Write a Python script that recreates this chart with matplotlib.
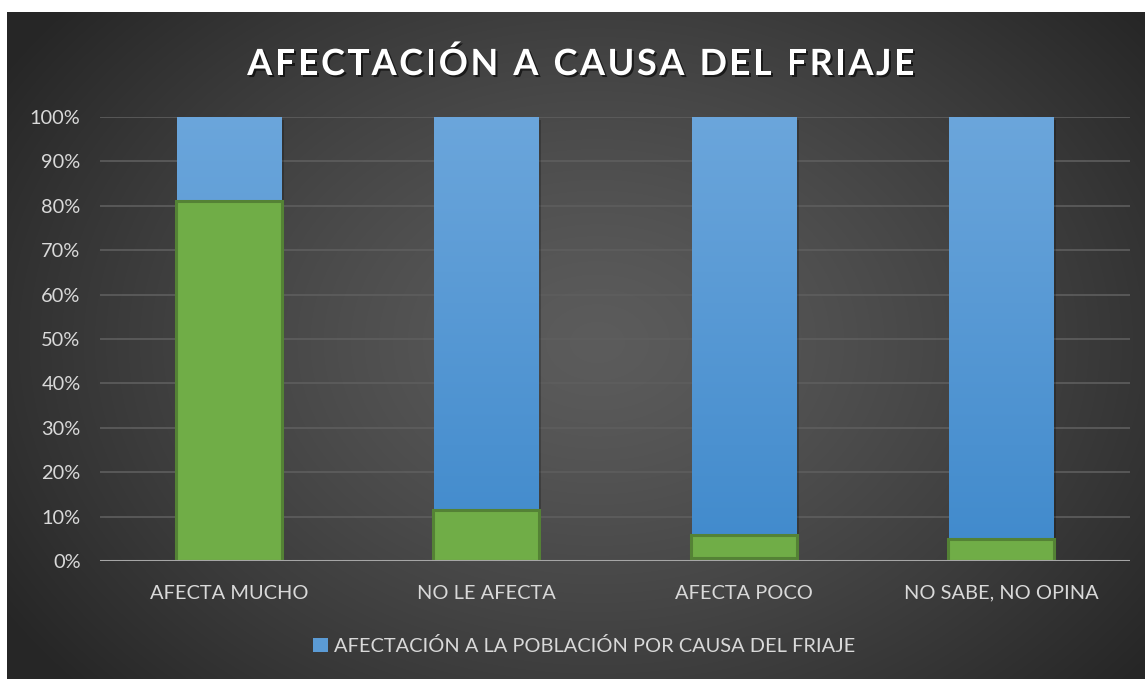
import numpy as np
import matplotlib
matplotlib.use("Agg")
import matplotlib.pyplot as plt
import matplotlib.patheffects as pe
from matplotlib.patches import Patch

# datos
categorias = ["AFECTA MUCHO", "NO LE AFECTA", "AFECTA POCO", "NO SABE, NO OPINA"]
poblacion = [1.0, 1.0, 1.0, 1.0]          # serie azul (100%)
verde_base = [0.0, 0.0, 0.006, 0.0]
verde_altura = [0.81, 0.115, 0.053, 0.05]
titulo = "AFECTACIÓN A CAUSA DEL FRIAJE"
leyenda = "AFECTACIÓN A LA POBLACIÓN POR CAUSA DEL FRIAJE"

W, H = 1145, 679
fig = plt.figure(figsize=(W / 100, H / 100), dpi=100)
fig.patch.set_facecolor("white")

# fondo con degradado radial
bg = fig.add_axes([7 / W, 0, 1 - 7 / W, 1 - 12 / H])
bg.set_axis_off()
yy, xx = np.mgrid[0:667, 0:1138]
r = np.sqrt(((xx - 590) / 700.0) ** 2 + ((yy - 330) / 520.0) ** 2)
r = np.clip(r, 0, 1)
g = 0.36 - 0.21 * r ** 1.3
bg.imshow(np.dstack([g, g, g]), aspect="auto", extent=[0, 1, 0, 1])
bg.set_xlim(0, 1)
bg.set_ylim(0, 1)

ax = fig.add_axes([100 / W, 1 - 561 / H, 1030 / W, (561 - 117) / H])
ax.patch.set_alpha(0)
x = np.arange(len(categorias))
ax.set_xlim(-0.5, len(categorias) - 0.5)
ax.set_ylim(0, 1)

ax.set_yticks(np.arange(0, 1.01, 0.1))
ax.set_yticklabels([f"{int(round(v * 100))}%" for v in np.arange(0, 1.01, 0.1)])
ax.yaxis.grid(True, color="#5e5e5e", lw=1.2)
ax.set_axisbelow(True)
for s in ax.spines.values():
    s.set_visible(False)
ax.axhline(0, color="#a6a6a6", lw=2.2, zorder=4)
ax.tick_params(length=0, labelsize=14.4, labelcolor="#d9d9d9", pad=14)
ax.set_xticks(x)
ax.set_xticklabels(categorias)
ax.tick_params(axis="x", pad=17)
for t in ax.get_xticklabels() + ax.get_yticklabels():
    t.set_fontfamily("Lato")

# barras azules con degradado vertical
ancho = 0.405
barras = ax.bar(x, poblacion, width=ancho, color="#5b9bd5", zorder=2,
                path_effects=[pe.SimplePatchShadow(offset=(2, -2), alpha=0.22, shadow_rgbFace="black"), pe.Normal()])
grad = np.linspace(0, 1, 256).reshape(-1, 1)
top = np.array([0.42, 0.65, 0.86])
bot = np.array([0.25, 0.54, 0.80])
img = (bot[None, None, :] * (1 - grad[:, :, None]) + top[None, None, :] * grad[:, :, None])
for b in barras:
    bx, bw = b.get_x(), b.get_width()
    im = ax.imshow(img, origin="lower", aspect="auto", extent=[bx, bx + bw, 0, b.get_height()], zorder=2.5)
    im.set_clip_path(b)
ax.set_xlim(-0.5, len(categorias) - 0.5)
ax.set_ylim(0, 1)

# barras verdes
ax.bar(x, verde_altura, bottom=verde_base, width=ancho + 0.006, color="#70ad47",
       edgecolor="#548235", lw=2.2, zorder=3)

# titulo con espaciado entre letras
fig.canvas.draw()
rend = fig.canvas.get_renderer()
props = dict(fontsize=26, fontweight="bold", color="white", family="Lato",
             path_effects=[pe.withSimplePatchShadow(offset=(1.5, -1.5), alpha=0.6, shadow_rgbFace="black")])
esp = 2.5
anchos = []
for ch in titulo:
    t = fig.text(0, 0, ch if ch != " " else "a", **props)
    w = t.get_window_extent(rend).width
    if ch == " ":
        w *= 0.55
    anchos.append(w)
    t.remove()
total = sum(anchos) + esp * (len(titulo) - 1)
x0 = 581 - total / 2
for ch, w in zip(titulo, anchos):
    if ch != " ":
        fig.text(x0 / W, 1 - 75 / H, ch, ha="left", va="baseline", **props)
    x0 += w + esp

# leyenda
fig.legend(handles=[Patch(facecolor="#5b9bd5", label=leyenda)], loc="center",
           bbox_to_anchor=(584 / W, 1 - 646 / H), frameon=False, handlelength=0.75,
           handleheight=0.75, handletextpad=0.3,
           prop={"family": "Lato", "size": 14.4}, labelcolor="#d9d9d9")

fig.savefig("out.png", dpi=100, facecolor=fig.get_facecolor())
